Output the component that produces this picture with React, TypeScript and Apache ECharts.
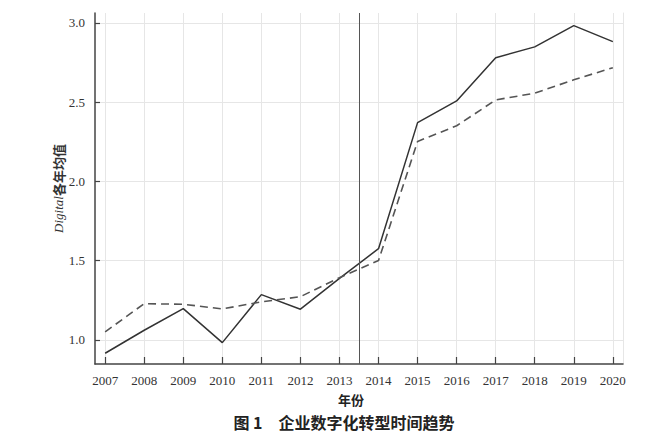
import React, { useEffect, useRef } from "react";
import * as echarts from "echarts";

const years = [2007, 2008, 2009, 2010, 2011, 2012, 2013, 2014, 2015, 2016, 2017, 2018, 2019, 2020];
const solidValues = [0.915, 1.06, 1.197, 0.982, 1.285, 1.193, 1.388, 1.575, 2.371, 2.508, 2.781, 2.849, 2.983, 2.882];
const dashedValues = [1.05, 1.228, 1.224, 1.195, 1.239, 1.272, 1.392, 1.5, 2.252, 2.351, 2.514, 2.557, 2.641, 2.718];
const yTicks = [1.0, 1.5, 2.0, 2.5, 3.0];
const cutYear = 2013.5;
const xMin = 2006.74;
const xMax = 2020.26;
const yMin = 0.847;
const yMax = 3.063;

const serif = "'Liberation Serif', 'Times New Roman', serif";
const cjk = "'Noto Sans CJK SC', sans-serif";

export default function App() {
  const ref = useRef<HTMLDivElement>(null);
  useEffect(() => {
    if (!ref.current) return;
    const chart = echarts.init(ref.current, undefined, { renderer: "svg" });
    const solid = years.map((y, i) => [y, solidValues[i]]);
    const dashed = years.map((y, i) => [y, dashedValues[i]]);
    chart.setOption({
      animation: false,
      backgroundColor: "#ffffff",
      title: {
        text: "图 1\u3000企业数字化转型时间趋势",
        left: 339,
        top: 409,
        textAlign: "center",
        textStyle: { fontFamily: cjk, fontSize: 16, fontWeight: "bold", color: "#222" },
      },
      grid: { left: 95, right: 39, top: 13, bottom: 74, containLabel: false },
      xAxis: {
        type: "value",
        min: xMin,
        max: xMax,
        name: "年份",
        nameLocation: "middle",
        nameGap: 29,
        nameMoveOverlap: false,
        nameTextStyle: { fontFamily: cjk, fontSize: 13, color: "#222", fontWeight: "bold", padding: [0, 16, 0, 0] },
        axisLine: { show: true, lineStyle: { color: "#444", width: 1.5 } },
        axisTick: { show: true, inside: true, length: 7, customValues: years, lineStyle: { color: "#444", width: 1.2 } },
        axisLabel: {
          customValues: years,
          formatter: (v: number) => String(Math.round(v)),
          fontFamily: serif,
          fontSize: 13,
          color: "#333",
          margin: 10,
        },
        splitLine: { show: true, lineStyle: { color: "#e6e6e6", width: 1 } },
      },
      yAxis: [
        {
          type: "value",
          min: yMin,
          max: yMax,
          name: "{i|Digital}{c|各年均值}",
          nameLocation: "middle",
          nameGap: 30,
          nameMoveOverlap: false,
          nameRotate: 90,
          nameTextStyle: {
            rich: {
              i: { fontFamily: serif, fontStyle: "italic", fontSize: 13, color: "#333" },
              c: { fontFamily: cjk, fontSize: 13, color: "#333", fontWeight: "bold" },
            },
          },
          axisLine: { show: true, lineStyle: { color: "#444", width: 1.5 } },
          axisTick: { show: true, inside: true, length: 5, customValues: yTicks, lineStyle: { color: "#444", width: 1.2 } },
          axisLabel: {
            customValues: yTicks,
            formatter: (v: number) => v.toFixed(1),
            fontFamily: serif,
            fontSize: 13,
            color: "#333",
            margin: 10,
          },
          splitLine: { show: true, lineStyle: { color: "#e6e6e6", width: 1 } },
        },
        {
          type: "value",
          position: "right",
          min: yMin,
          max: yMax,
          axisLine: { show: true, lineStyle: { color: "#e6e6e6", width: 1 } },
          axisTick: { show: false },
          axisLabel: { show: false },
          splitLine: { show: false },
        },
      ],
      series: [
        {
          type: "line",
          data: solid,
          showSymbol: false,
          symbol: "none",
          lineStyle: { color: "#333", width: 1.5, type: "solid" },
          markLine: {
            silent: true,
            symbol: "none",
            label: { show: false },
            lineStyle: { color: "#555", width: 1, type: "solid" },
            data: [{ xAxis: cutYear }],
          },
        },
        {
          type: "line",
          data: dashed,
          showSymbol: false,
          symbol: "none",
          lineStyle: { color: "#555", width: 1.6, type: [8, 5] },
        },
      ],
    });
    return () => chart.dispose();
  }, []);
  return <div ref={ref} style={{ position: "fixed", left: 0, top: 0, width: 662, height: 438 }} />;
}
